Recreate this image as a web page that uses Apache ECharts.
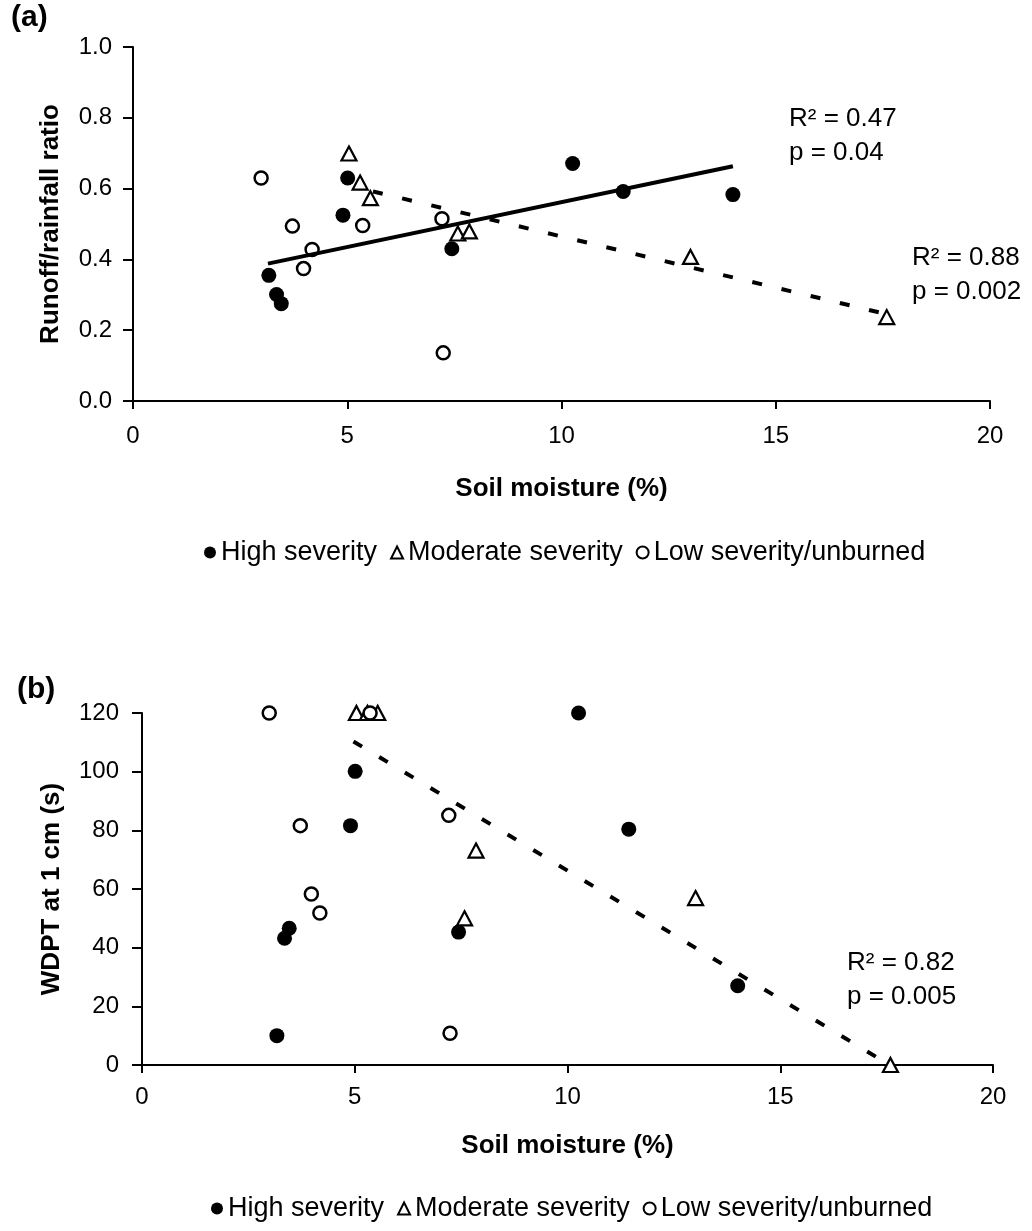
<!DOCTYPE html>
<html><head><meta charset="utf-8">
<script src="https://cdn.jsdelivr.net/npm/echarts/dist/echarts.min.js"></script>
<style>html,body{margin:0;padding:0;background:#fff}#c{width:1032px;height:1231px}</style>
</head><body><div id="c"></div>
<script>
// ---- data ----
const seriesNames = ['High severity', 'Moderate severity', 'Low severity/unburned'];
const xTicks = [0, 5, 10, 15, 20];
const yTicksA = [0, 0.2, 0.4, 0.6, 0.8, 1.0];
const yTicksB = [0, 20, 40, 60, 80, 100, 120];

// soil moisture (%) of each plot, by burn severity
const highMoisture = [3.17, 3.35, 3.46, 4.90, 5.01, 7.44, 10.26, 11.44, 14.00];
const modMoisture  = [5.04, 5.30, 5.54, 7.58, 7.85, 13.01, 17.59];
const lowMoisture  = [2.99, 3.72, 3.98, 4.18, 5.36, 7.21, 7.24];

// (a) runoff/rainfall ratio
const highRunoff = [0.355, 0.301, 0.275, 0.525, 0.630, 0.430, 0.671, 0.592, 0.583];
const modRunoff  = [0.699, 0.617, 0.573, 0.473, 0.479, 0.407, 0.237];
const lowRunoff  = [0.630, 0.494, 0.374, 0.428, 0.496, 0.515, 0.136];

// (b) WDPT at 1 cm (s)
const highWdpt = [10, 43.2, 46.6, 81.6, 100.1, 45.3, 120, 80.4, 27.0];
const modWdpt  = [120, 120, 120, 50.0, 73.1, 56.9, 0];
const lowWdpt  = [120, 81.6, 58.3, 51.8, 120, 85.1, 10.8];

// trend lines (end points)
const fitAHighX = [3.15, 14.0];  const fitAHighY = [0.388, 0.663];
const fitAModX  = [5.6, 17.6];   const fitAModY  = [0.592, 0.245];
const fitBModX  = [4.97, 17.57]; const fitBModY  = [110.3, 0];

const statsA1 = ['R² = 0.47', 'p = 0.04'];
const statsA2 = ['R² = 0.88', 'p = 0.002'];
const statsB  = ['R² = 0.82', 'p = 0.005'];

// ---- chart ----
const zip = (xs, ys) => xs.map((x, i) => [x, ys[i]]);
const FONT = '"Liberation Sans", Arial, sans-serif';
const BLACK = '#000';

function xAxis(gi, nameGap, margin) {
  return {
    gridIndex: gi, type: 'value', min: xTicks[0], max: xTicks[xTicks.length - 1],
    interval: xTicks[1] - xTicks[0],
    axisLine: { onZero: false, lineStyle: { color: BLACK, width: 2 } },
    axisTick: { length: 8, lineStyle: { color: BLACK, width: 2 } },
    axisLabel: { margin: margin, fontSize: 24, color: BLACK, fontFamily: FONT },
    splitLine: { show: false },
    name: 'Soil moisture (%)', nameLocation: 'middle', nameGap: nameGap,
    nameTextStyle: { fontSize: 26, fontWeight: 'bold', color: BLACK, fontFamily: FONT }
  };
}
function yAxis(gi, ticks, name, nameGap, margin, dec) {
  return {
    gridIndex: gi, type: 'value', min: ticks[0], max: ticks[ticks.length - 1],
    interval: ticks[1] - ticks[0],
    axisLine: { onZero: false, lineStyle: { color: BLACK, width: 2 } },
    axisTick: { length: 10, lineStyle: { color: BLACK, width: 2 } },
    axisLabel: { margin: margin, fontSize: 24, color: BLACK, fontFamily: FONT,
      formatter: v => v.toFixed(dec) },
    splitLine: { show: false },
    name: name, nameLocation: 'middle', nameGap: nameGap,
    nameTextStyle: { fontSize: 26, fontWeight: 'bold', color: BLACK, fontFamily: FONT }
  };
}
const styles = [
  { symbol: 'circle', symbolSize: 15, itemStyle: { color: BLACK, opacity: 1 } },
  { symbol: 'triangle', symbolSize: [15, 14], itemStyle: { color: '#fff', borderColor: BLACK, borderWidth: 2.2, opacity: 1 } },
  { symbol: 'circle', symbolSize: 13, itemStyle: { color: '#fff', borderColor: BLACK, borderWidth: 2.5, opacity: 1 } }
];
function scatter(k, gi, data) {
  return Object.assign({ type: 'scatter', name: seriesNames[k], xAxisIndex: gi, yAxisIndex: gi,
    data: data, emphasis: { disabled: true }, z: 3 }, styles[k]);
}
function fit(gi, data, type) {
  return { type: 'line', name: 'fit', xAxisIndex: gi, yAxisIndex: gi, data: data, symbol: 'none',
    lineStyle: { color: BLACK, width: 4, type: type, cap: 'butt', opacity: 1 }, z: 4, silent: true };
}
function legend(left, top) {
  return {
    left: left, top: top, itemWidth: 12, itemHeight: 12, itemGap: 13,
    data: [
      { name: seriesNames[0], icon: 'circle' },
      { name: seriesNames[1], icon: 'triangle' },
      { name: seriesNames[2], icon: 'circle' }
    ],
    textStyle: { fontSize: 27, color: BLACK, fontFamily: FONT }
  };
}
function statText(lines, left, top) {
  return { type: 'text', left: left, top: top,
    style: { text: lines.join('\n'), font: '26px ' + FONT, fill: BLACK, lineHeight: 34 } };
}

const option = {
  animation: false,
  backgroundColor: '#fff',
  grid: [
    { left: 133, top: 47, width: 857, height: 354, outerBoundsMode: 'none' },
    { left: 142, top: 713, width: 851, height: 352, outerBoundsMode: 'none' }
  ],
  xAxis: [xAxis(0, 75, 23), xAxis(1, 68, 20)],
  yAxis: [
    yAxis(0, yTicksA, 'Runoff/rainfall ratio', 69, 21, 1),
    yAxis(1, yTicksB, 'WDPT at 1 cm (s)', 77, 23, 0)
  ],
  legend: [legend(199, 534), legend(206, 1190)],
  series: [
    scatter(0, 0, zip(highMoisture, highRunoff)),
    scatter(1, 0, zip(modMoisture, modRunoff)),
    scatter(2, 0, zip(lowMoisture, lowRunoff)),
    fit(0, zip(fitAHighX, fitAHighY), 'solid'),
    fit(0, zip(fitAModX, fitAModY), [10, 20]),
    scatter(0, 1, zip(highMoisture, highWdpt)),
    scatter(1, 1, zip(modMoisture, modWdpt)),
    scatter(2, 1, zip(lowMoisture, lowWdpt)),
    fit(1, zip(fitBModX, fitBModY), [10, 20])
  ],
  graphic: [
    { type: 'text', left: 11, top: 3, style: { text: '(a)', font: 'bold 30px ' + FONT, fill: BLACK } },
    { type: 'text', left: 17, top: 675, style: { text: '(b)', font: 'bold 30px ' + FONT, fill: BLACK } },
    statText(statsA1, 789, 102),
    statText(statsA2, 912, 241),
    statText(statsB, 847, 946)
  ]
};
const chart = echarts.init(document.getElementById('c'), null, { renderer: 'canvas' });
chart.setOption(option);
</script></body></html>
